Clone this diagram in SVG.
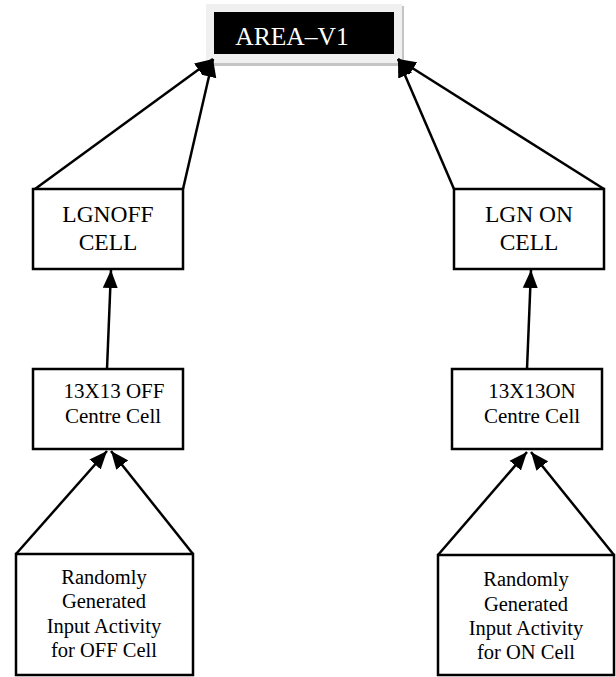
<svg xmlns="http://www.w3.org/2000/svg" width="616" height="677" viewBox="0 0 616 677">
<style>
.box{fill:#fff;stroke:#000;stroke-width:2.5}
.t{font-family:"Liberation Serif","Times New Roman",serif;fill:#000;text-anchor:middle}
.edge{fill:none;stroke:#000;stroke-width:2.5;marker-end:url(#ah)}
</style>
<defs>
<marker id="ah" markerUnits="userSpaceOnUse" markerWidth="20" markerHeight="16" refX="18" refY="8" orient="auto">
<path d="M0,0.5 L18,8 L0,15.5 Z" fill="#000"/>
</marker>
</defs>
<rect width="616" height="677" fill="#fff"/>
<g id="area-v1">
<rect x="208" y="6" width="196" height="60" fill="#c4c4c4"/>
<rect x="206" y="4" width="196" height="59" fill="#f0f0f0"/>
<rect x="214" y="12" width="180" height="42" fill="#000"/>
<text x="292" y="45" class="t" style="fill:#fff;font-size:25.5px">AREA–V1</text>
</g>
<g id="lgn-off">
<rect x="33" y="189" width="150" height="80" class="box"/>
<text x="108" y="222" class="t" style="font-size:23.5px">LGNOFF</text>
<text x="108" y="250" class="t" style="font-size:23.5px">CELL</text>
</g>
<g id="lgn-on">
<rect x="454" y="189" width="150" height="80" class="box"/>
<text x="529" y="222" class="t" style="font-size:23.5px">LGN ON</text>
<text x="529" y="250" class="t" style="font-size:23.5px">CELL</text>
</g>
<g id="off-centre">
<rect x="33" y="369" width="150" height="80" class="box"/>
<text x="114" y="398" class="t" style="font-size:21px">13X13 OFF</text>
<text x="113" y="423" class="t" style="font-size:21px">Centre Cell</text>
</g>
<g id="on-centre">
<rect x="452" y="369" width="150" height="80" class="box"/>
<text x="532" y="398" class="t" style="font-size:21px">13X13ON</text>
<text x="532" y="423" class="t" style="font-size:21px">Centre Cell</text>
</g>
<g id="off-input">
<rect x="16" y="554" width="177" height="121" class="box"/>
<text x="104" y="584" class="t" style="font-size:20.5px">Randomly</text>
<text x="104" y="608" class="t" style="font-size:20.5px">Generated</text>
<text x="104" y="633" class="t" style="font-size:20.5px">Input Activity</text>
<text x="104" y="657" class="t" style="font-size:20.5px">for OFF Cell</text>
</g>
<g id="on-input">
<rect x="438" y="555" width="176" height="120" class="box"/>
<text x="526" y="586" class="t" style="font-size:20.5px">Randomly</text>
<text x="526" y="611" class="t" style="font-size:20.5px">Generated</text>
<text x="526" y="635" class="t" style="font-size:20.5px">Input Activity</text>
<text x="526" y="659" class="t" style="font-size:20.5px">for ON Cell</text>
</g>
<g id="connectors">
<line x1="35" y1="189" x2="213" y2="59" class="edge"/>
<line x1="183" y1="189" x2="213" y2="59" class="edge"/>
<line x1="454" y1="189" x2="398" y2="59" class="edge"/>
<line x1="604" y1="189" x2="398" y2="59" class="edge"/>
<line x1="107" y1="369" x2="111" y2="270" class="edge"/>
<line x1="527" y1="369" x2="531" y2="270" class="edge"/>
<line x1="16" y1="554" x2="107" y2="451" class="edge"/>
<line x1="193" y1="554" x2="111" y2="451" class="edge"/>
<line x1="438" y1="555" x2="527" y2="452" class="edge"/>
<line x1="614" y1="555" x2="531" y2="452" class="edge"/>
</g>
</svg>
